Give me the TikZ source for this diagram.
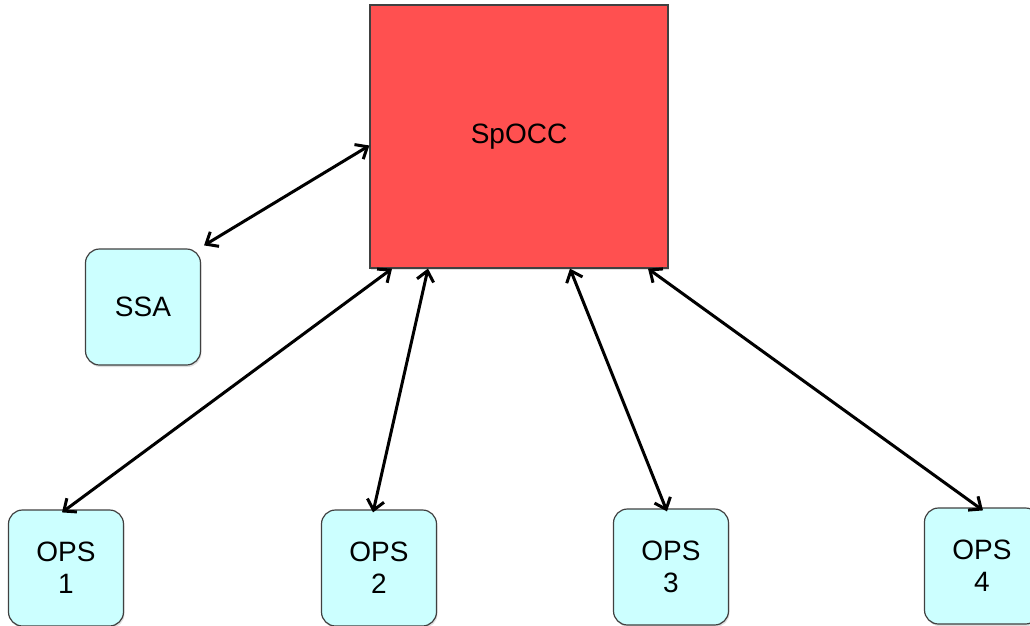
\documentclass[tikz,border=0pt]{standalone}
\usepackage{fontspec}
\setmainfont{Liberation Sans}
\usetikzlibrary{arrows.meta,shadows}

\definecolor{occred}{RGB}{255,80,80}
\definecolor{opscyan}{RGB}{204,255,255}

\tikzset{
  opsbox/.style={draw=black!75, line width=1.2pt, fill=opscyan, rounded corners=14pt, minimum width=115pt, minimum height=116pt, align=center, font=\fontsize{28}{32}\selectfont, drop shadow={shadow xshift=1pt, shadow yshift=-2pt, opacity=0.25}},
  link/.style={{Straight Barb[length=10pt,width=17pt]}-{Straight Barb[length=10pt,width=17pt]}, line width=3pt},
}

\begin{document}
\begin{tikzpicture}[x=1pt,y=-1pt]
\useasboundingbox (0,0) rectangle (1030,625);
\node[draw=black!75, line width=1.2pt, fill=occred, minimum width=298pt, minimum height=263pt, font=\fontsize{28}{32}\selectfont, drop shadow={shadow xshift=1pt, shadow yshift=-2pt, opacity=0.25}] (spocc) at (519,136.5) {SpOCC};
\node[opsbox] (ssa) at (143,307) {SSA};
\node[opsbox] (ops1) at (66,568) {OPS\\1};
\node[opsbox] (ops2) at (379,568) {OPS\\2};
\node[opsbox] (ops3) at (671,567) {OPS\\3};
\node[opsbox] (ops4) at (982,566) {OPS\\4};

\draw[link] ([xshift=3pt,yshift=3pt] ssa.north east) -- ([yshift=-9pt] spocc.west);
\draw[link] ([xshift=-4pt,yshift=-3pt] ops1.north) -- ([xshift=-127pt] spocc.south);
\draw[link] ([xshift=-6pt,yshift=-3pt] ops2.north) -- ([xshift=-91pt] spocc.south);
\draw[link] ([xshift=-4pt,yshift=-3pt] ops3.north) -- ([xshift=51pt] spocc.south);
\draw[link] ([xshift=1pt,yshift=-3pt] ops4.north) -- ([xshift=129pt] spocc.south);
\end{tikzpicture}
\end{document}
